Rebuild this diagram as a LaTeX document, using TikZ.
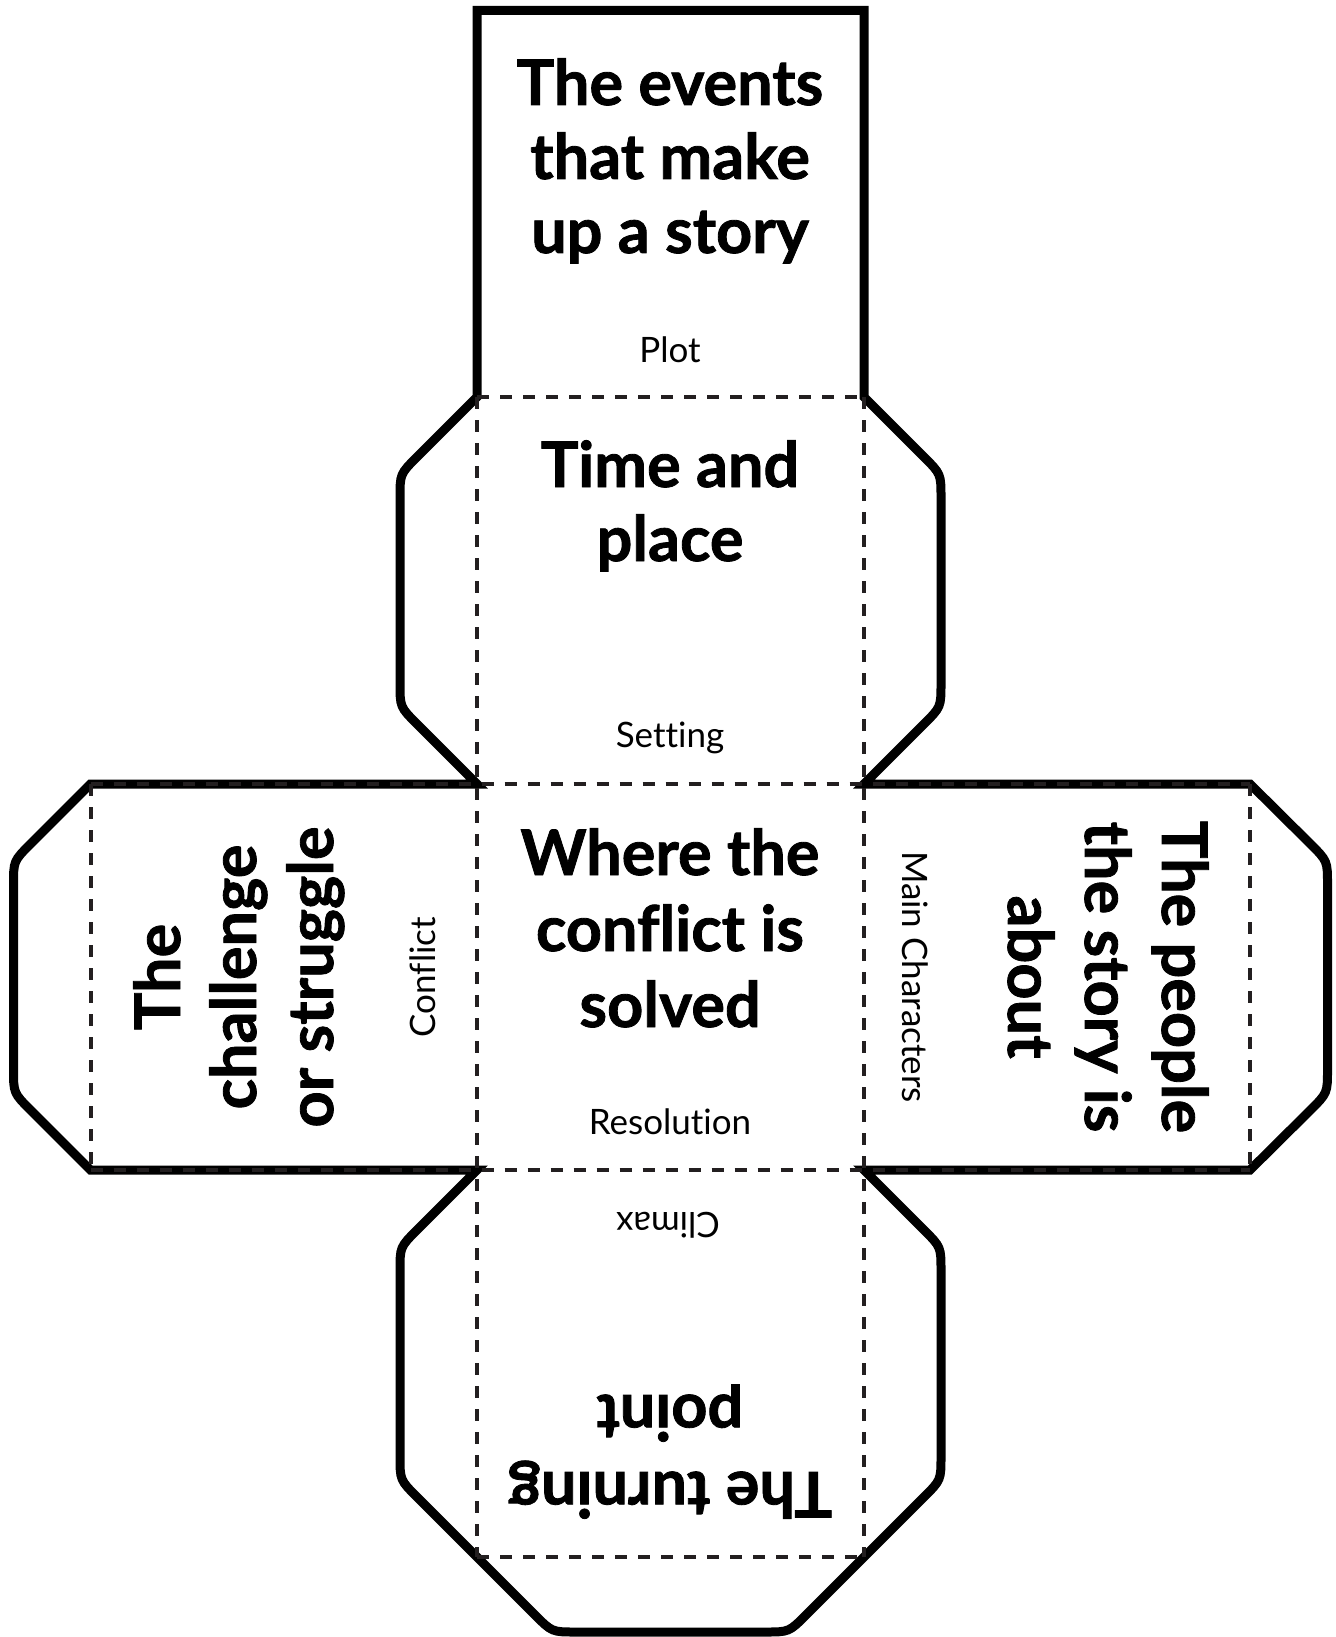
\documentclass[tikz,border=0pt]{standalone}
\usepackage{fontspec}
\setmainfont{Lato}[RawFeature=-liga, BoldFeatures={FakeBold=1.3}]
\definecolor{foldgray}{HTML}{231F20}
\begin{document}
\begin{tikzpicture}[x=1pt,y=-1pt,
  outline/.style={line width=9pt, black, line join=miter, miter limit=10},
  fold/.style={line width=4pt, foldgray, dash pattern=on 12pt off 11pt},
  big/.style={font=\fontsize{63}{75}\selectfont\bfseries, anchor=base, inner sep=0pt},
  small/.style={font=\fontsize{35}{40}\selectfont, anchor=base, inner sep=0pt}]
\useasboundingbox (0,0) rectangle (1335,1637);
% thick outline
\draw[outline] (477,10.5) -- (864,10.5) -- (864,397)
 -- (924,457) .. controls (941,474) .. (941,498)
 -- (941,683) .. controls (941,707) .. (924,724)
 -- (864,784) -- (1250,784)
 -- (1310.5,844) .. controls (1327.5,861) .. (1327.5,885)
 -- (1327.5,1069) .. controls (1327.5,1093) .. (1310.5,1110)
 -- (1250,1170) -- (864,1170)
 -- (924,1230) .. controls (941,1247) .. (941,1271)
 -- (941,1456) .. controls (941,1480) .. (924,1497)
 -- (806,1615) .. controls (789,1632) .. (765,1632)
 -- (576,1632) .. controls (552,1632) .. (535,1615)
 -- (417,1497) .. controls (400,1480) .. (400,1456)
 -- (400,1271) .. controls (400,1247) .. (417,1230)
 -- (477,1170) -- (90.5,1170)
 -- (30.5,1110) .. controls (13.5,1093) .. (13.5,1069)
 -- (13.5,885) .. controls (13.5,861) .. (30.5,844)
 -- (90.5,784) -- (477,784)
 -- (417,724) .. controls (400,707) .. (400,683)
 -- (400,498) .. controls (400,474) .. (417,457)
 -- (477,397) -- cycle;
% fold lines
\draw[fold] (477,397) -- (864,397);
\draw[fold] (477,397) -- (477,1556.5);
\draw[fold] (864,397) -- (864,1556.5);
\draw[fold] (477,1556.5) -- (864,1556.5);
\draw[fold] (90.5,784) -- (1250,784);
\draw[fold] (90.5,1170) -- (1250,1170);
\draw[fold] (90.5,784) -- (90.5,1170);
\draw[fold] (1250,784) -- (1250,1170);
% Plot face
\node[big] (p1) at (670,105) {The events};
\node[big] (p2) at (670,179) {that make};
\node[big] (p3) at (670,253) {up a story};
\node[small] (pl) at (670,362) {Plot};
% Setting face
\node[big] (s1) at (670,487) {Time and};
\node[big] (s2) at (670,561) {place};
\node[small] (sl) at (670,747) {Setting};
% Resolution face
\node[big] (r1) at (670,875) {Where the};
\node[big] (r2) at (670,951) {conflict is};
\node[big] (r3) at (670,1027) {solved};
\node[small] (rl) at (670,1134) {Resolution};
% Climax face (upside down)
\node[big, rotate=180] (c1) at (670,1472) {The turning};
\node[big, rotate=180] (c2) at (670,1395) {point};
\node[small, rotate=180] (cl) at (668,1212) {Climax};
% Conflict face (rotated left)
\node[big, rotate=90] (k1) at (180,977) {The};
\node[big, rotate=90] (k2) at (256,977) {challenge};
\node[big, rotate=90] (k3) at (333,977) {or struggle};
\node[small, rotate=90] (kl) at (435,977) {Conflict};
% Main characters face (rotated right)
\node[big, rotate=-90] (m1) at (1162,977) {The people};
\node[big, rotate=-90] (m2) at (1085,977) {the story is};
\node[big, rotate=-90] (m3) at (1008,977) {about};
\node[small, rotate=-90] (ml) at (902,977) {Main Characters};
\end{tikzpicture}
\end{document}
